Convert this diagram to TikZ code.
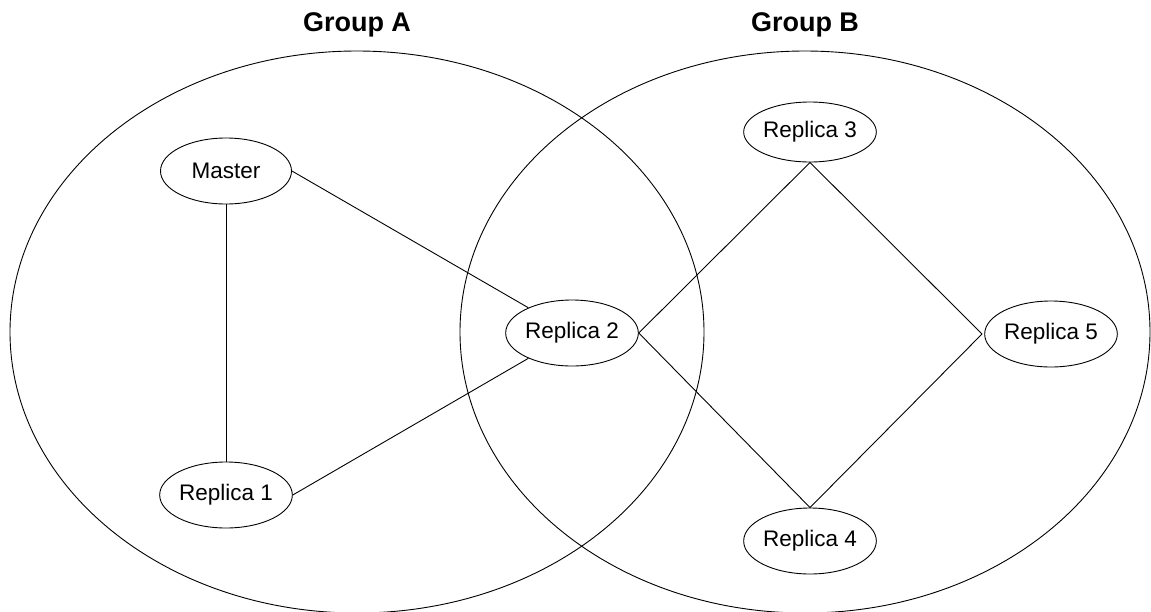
\documentclass[tikz,border=0pt]{standalone}
\usepackage{fontspec}
\setmainfont{Liberation Sans}
\usetikzlibrary{shapes.geometric}
\begin{document}
\begin{tikzpicture}[x=1pt,y=-1pt,line width=0.9pt,
  rep/.style={draw,ellipse,minimum width=131pt,minimum height=66pt,inner sep=0pt,font=\fontsize{22.5}{25}\selectfont},
  grp/.style={font=\bfseries\fontsize{27}{30}\selectfont},
  edge/.style={draw}]
\useasboundingbox (0,0) rectangle (1151,611);
\draw (357,332) ellipse [x radius=347, y radius=281];
\draw (805,332) ellipse [x radius=345, y radius=281];
\node[grp] (ga) at (357,25) {Group A};
\node[grp] (gb) at (805,25) {Group B};
\node[rep] (m) at (226,171) {Master};
\node[rep] (r1) at (226,495) {Replica 1};
\node[rep] (r2) at (572,333) {Replica 2};
\node[rep,minimum height=60pt] (r3) at (810,132) {Replica 3};
\node[rep] (r4) at (810,541) {Replica 4};
\node[rep] (r5) at (1051,334) {Replica 5};
\coordinate (d5) at (982,334);
\draw[edge] (m.south) -- (r1.north);
\draw[edge] (m.east) -- (r2);
\draw[edge] (r1.east) -- (r2);
\draw[edge] (r2.east) -- (r3.south);
\draw[edge] (r2.east) -- (r4.north);
\draw[edge] (r3.south) -- (d5);
\draw[edge] (r4.north) -- (d5);
\end{tikzpicture}
\end{document}
